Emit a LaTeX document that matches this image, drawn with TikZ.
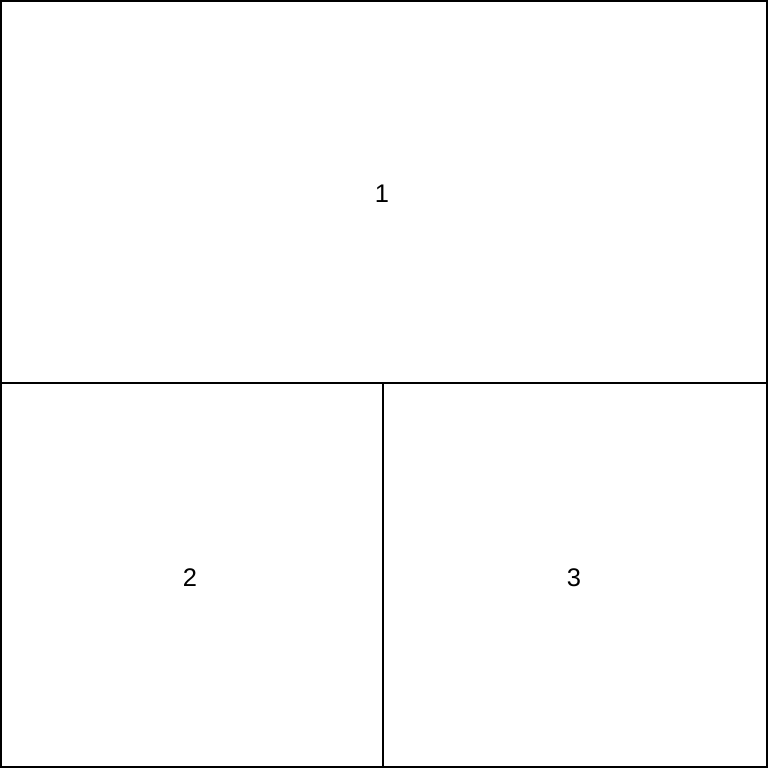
\documentclass[tikz,border=0pt]{standalone}
\usepackage{fontspec}
\setmainfont{Liberation Sans}
\begin{document}
\begin{tikzpicture}[x=0.02cm,y=-0.02cm,
  cell/.style={draw=black,line width=1.13pt},
  lbl/.style={font=\fontsize{14.5}{16}\selectfont,inner sep=0pt}]
\useasboundingbox (0,0) rectangle (768,768);
\fill[white] (0,0) rectangle (768,768);
\draw[cell] (1,1) rectangle (767,767);
\coordinate (hl) at (1,383);
\coordinate (hr) at (767,383);
\coordinate (vt) at (383,383);
\coordinate (vb) at (383,767);
\draw[cell] (hl) -- (hr);
\draw[cell] (vt) -- (vb);
\node[lbl] (n1) at (382,193.5) {1};
\node[lbl] (n2) at (190,577.5) {2};
\node[lbl] (n3) at (574,577.5) {3};
\end{tikzpicture}
\end{document}
